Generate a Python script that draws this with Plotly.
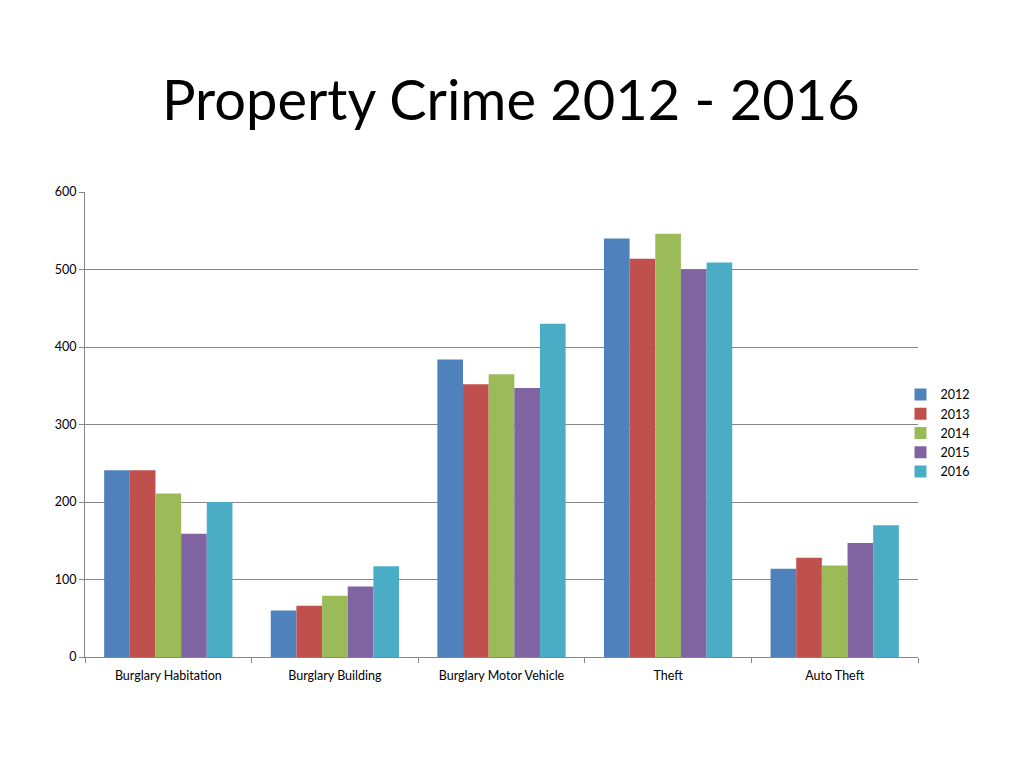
import plotly.graph_objects as go

categories = ["Burglary Habitation", "Burglary Building", "Burglary Motor Vehicle", "Theft", "Auto Theft"]
years = ["2012", "2013", "2014", "2015", "2016"]
v2012 = [241, 60, 384, 540, 114]
v2013 = [241, 66, 352, 514, 128]
v2014 = [211, 79, 365, 546, 118]
v2015 = [159, 91, 347, 500, 147]
v2016 = [200, 117, 430, 509, 170]
series = [v2012, v2013, v2014, v2015, v2016]
colors = ["#4F81BD", "#C0504D", "#9BBB59", "#8064A2", "#4BACC6"]
yticks = [0, 100, 200, 300, 400, 500, 600]

fig = go.Figure()
for name, vals, c in zip(years, series, colors):
    fig.add_trace(go.Bar(x=categories, y=vals, name=name, marker=dict(color=c, line=dict(width=0))))

fig.update_layout(
    width=1024, height=768,
    paper_bgcolor="white", plot_bgcolor="white",
    font=dict(family="Lato, Carlito, sans-serif", color="#000000", size=12.5),
    title=dict(text="Property Crime 2012 - 2016", x=0.491, xanchor="center", y=0.88, yanchor="middle",
               font=dict(size=56, family="Lato, Carlito, sans-serif", color="#000000")),
    margin=dict(l=77, r=114, t=184, b=119),
    barmode="group", bargap=0.23, bargroupgap=0,
    legend=dict(x=0.979, xanchor="left", y=0.481, yanchor="middle", font=dict(size=12.5),
                itemwidth=30, tracegroupgap=0, bgcolor="rgba(0,0,0,0)"),
    showlegend=True,
)
fig.update_xaxes(showline=True, linecolor="#868686", linewidth=1, ticks="outside", ticklen=5,
                 tickcolor="#868686", tickson="boundaries", showgrid=False,
                 tickfont=dict(size=12.5), ticklabelstandoff=7)
fig.update_yaxes(range=[0, 600], tickvals=yticks, showline=True, linecolor="#868686", linewidth=1,
                 ticks="outside", ticklen=5, tickcolor="#868686", showgrid=True, gridcolor="#868686",
                 gridwidth=1, zeroline=False, tickfont=dict(size=12.5))

fig.write_html("out.html")
